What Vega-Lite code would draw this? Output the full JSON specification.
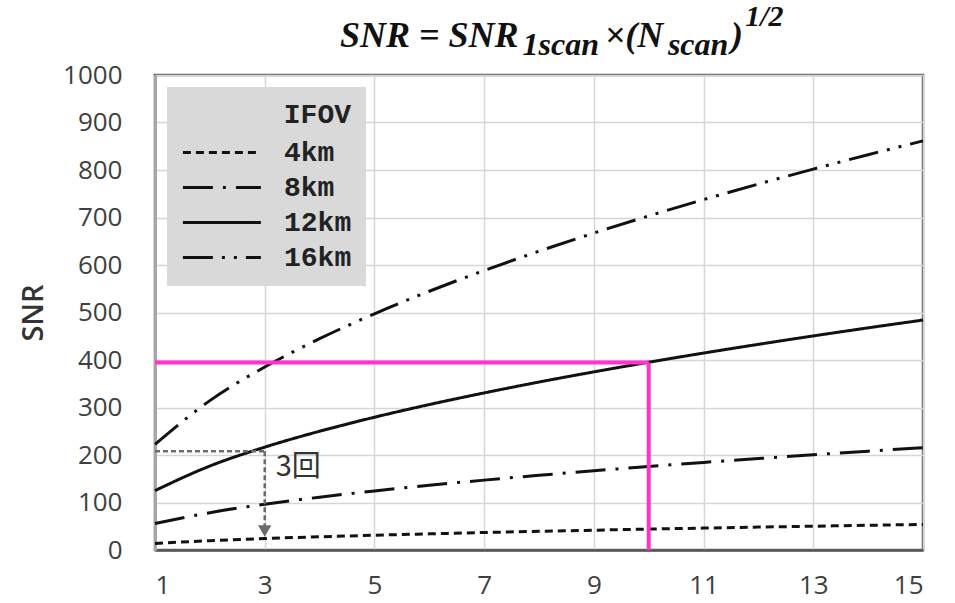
{
  "$schema": "https://vega.github.io/schema/vega-lite/v6.json",
  "width": 768,
  "height": 475,
  "autosize": {"type": "none"},
  "padding": {"left": 155, "top": 75, "right": 32, "bottom": 53},
  "background": "white",
  "config": {
    "view": {"stroke": "#5a5a5a", "strokeWidth": 2.5},
    "axis": {"labelFont": "Open Sans", "labelFontSize": 26, "labelColor": "#404040", "ticks": false, "gridColor": "#d6d6d6", "gridWidth": 1.5, "titleFont": "Open Sans", "titleColor": "#333333"}
  },
  "datasets": {
    "curves": [
      {"N": 1, "SNR": 13.9, "IFOV": "4km"}, {"N": 2, "SNR": 19.7, "IFOV": "4km"}, {"N": 3, "SNR": 24.1, "IFOV": "4km"}, {"N": 4, "SNR": 27.8, "IFOV": "4km"}, {"N": 5, "SNR": 31.1, "IFOV": "4km"}, {"N": 6, "SNR": 34.0, "IFOV": "4km"}, {"N": 7, "SNR": 36.8, "IFOV": "4km"}, {"N": 8, "SNR": 39.3, "IFOV": "4km"}, {"N": 9, "SNR": 41.7, "IFOV": "4km"}, {"N": 10, "SNR": 44.0, "IFOV": "4km"}, {"N": 11, "SNR": 46.1, "IFOV": "4km"}, {"N": 12, "SNR": 48.2, "IFOV": "4km"}, {"N": 13, "SNR": 50.1, "IFOV": "4km"}, {"N": 14, "SNR": 52.0, "IFOV": "4km"}, {"N": 15, "SNR": 53.8, "IFOV": "4km"},
      {"N": 1, "SNR": 55.6, "IFOV": "8km"}, {"N": 2, "SNR": 78.6, "IFOV": "8km"}, {"N": 3, "SNR": 96.3, "IFOV": "8km"}, {"N": 4, "SNR": 111.2, "IFOV": "8km"}, {"N": 5, "SNR": 124.3, "IFOV": "8km"}, {"N": 6, "SNR": 136.2, "IFOV": "8km"}, {"N": 7, "SNR": 147.1, "IFOV": "8km"}, {"N": 8, "SNR": 157.2, "IFOV": "8km"}, {"N": 9, "SNR": 166.8, "IFOV": "8km"}, {"N": 10, "SNR": 175.8, "IFOV": "8km"}, {"N": 11, "SNR": 184.4, "IFOV": "8km"}, {"N": 12, "SNR": 192.6, "IFOV": "8km"}, {"N": 13, "SNR": 200.5, "IFOV": "8km"}, {"N": 14, "SNR": 208.1, "IFOV": "8km"}, {"N": 15, "SNR": 215.3, "IFOV": "8km"},
      {"N": 1, "SNR": 125.0, "IFOV": "12km"}, {"N": 2, "SNR": 176.8, "IFOV": "12km"}, {"N": 3, "SNR": 216.5, "IFOV": "12km"}, {"N": 4, "SNR": 250.0, "IFOV": "12km"}, {"N": 5, "SNR": 279.5, "IFOV": "12km"}, {"N": 6, "SNR": 306.2, "IFOV": "12km"}, {"N": 7, "SNR": 330.7, "IFOV": "12km"}, {"N": 8, "SNR": 353.6, "IFOV": "12km"}, {"N": 9, "SNR": 375.0, "IFOV": "12km"}, {"N": 10, "SNR": 395.3, "IFOV": "12km"}, {"N": 11, "SNR": 414.6, "IFOV": "12km"}, {"N": 12, "SNR": 433.0, "IFOV": "12km"}, {"N": 13, "SNR": 450.7, "IFOV": "12km"}, {"N": 14, "SNR": 467.7, "IFOV": "12km"}, {"N": 15, "SNR": 484.1, "IFOV": "12km"},
      {"N": 1, "SNR": 222.4, "IFOV": "16km"}, {"N": 2, "SNR": 314.5, "IFOV": "16km"}, {"N": 3, "SNR": 385.2, "IFOV": "16km"}, {"N": 4, "SNR": 444.8, "IFOV": "16km"}, {"N": 5, "SNR": 497.3, "IFOV": "16km"}, {"N": 6, "SNR": 544.7, "IFOV": "16km"}, {"N": 7, "SNR": 588.4, "IFOV": "16km"}, {"N": 8, "SNR": 629.0, "IFOV": "16km"}, {"N": 9, "SNR": 667.2, "IFOV": "16km"}, {"N": 10, "SNR": 703.3, "IFOV": "16km"}, {"N": 11, "SNR": 737.6, "IFOV": "16km"}, {"N": 12, "SNR": 770.4, "IFOV": "16km"}, {"N": 13, "SNR": 801.9, "IFOV": "16km"}, {"N": 14, "SNR": 832.2, "IFOV": "16km"}, {"N": 15, "SNR": 861.3, "IFOV": "16km"}
    ],
    "pink": [
      {"N": 1, "SNR": 395, "N2": 10, "SNR2": 395},
      {"N": 10, "SNR": 0, "N2": 10, "SNR2": 395}
    ],
    "guide": [
      {"N": 1, "SNR": 208, "N2": 3, "SNR2": 208},
      {"N": 3, "SNR": 208, "N2": 3, "SNR2": 50}
    ],
    "arrow": [{"N": 3, "SNR": 40}],
    "note": [{"N": 3.2, "SNR": 175, "label": "3回"}]
  },
  "layer": [
    {
      "data": {"name": "curves"},
      "mark": {"type": "line", "strokeWidth": 3, "color": "#111111", "interpolate": "monotone"},
      "encoding": {
        "x": {"field": "N", "type": "quantitative", "scale": {"domain": [1, 15], "nice": false, "zero": false},
              "axis": {"values": [1, 3, 5, 7, 9, 11, 13, 15], "format": "d", "title": null, "labelPadding": 22, "domainColor": "#555555", "domainWidth": 2.5}},
        "y": {"field": "SNR", "type": "quantitative", "scale": {"domain": [0, 1000], "nice": false},
              "axis": {"values": [0, 100, 200, 300, 400, 500, 600, 700, 800, 900, 1000], "format": "d", "title": "SNR", "titleFontSize": 29, "titleFontWeight": 600, "titlePadding": 14, "labelPadding": 33, "domainColor": "#a6a6a6", "domainWidth": 3}},
        "strokeDash": {"field": "IFOV", "type": "nominal",
          "scale": {"domain": ["4km", "8km", "12km", "16km"], "range": [[8, 5], [30, 10, 3, 10], [1, 0], [30, 9, 3, 9, 3, 9]]},
          "legend": {"orient": "top-left", "offset": 12, "title": "IFOV", "fillColor": "#d9d9d9", "padding": 14,
            "titleFont": "Liberation Mono", "titleFontSize": 28, "titleFontWeight": "bold", "titleColor": "#222222", "titleAnchor": "end", "titlePadding": 6,
            "labelFont": "Liberation Mono", "labelFontSize": 28, "labelFontWeight": "bold", "labelColor": "#222222", "labelOffset": 68,
            "symbolType": "M-1,0H4", "symbolSize": 973, "symbolStrokeWidth": 3, "symbolStrokeColor": "#111111", "rowPadding": 3,
            "labelExpr": "length(datum.label) < 4 ? '\u00a0' + datum.label : datum.label"}}
      }
    },
    {
      "data": {"name": "pink"},
      "mark": {"type": "rule", "color": "#ff33cc", "strokeWidth": 4},
      "encoding": {
        "x": {"field": "N", "type": "quantitative"},
        "y": {"field": "SNR", "type": "quantitative"},
        "x2": {"field": "N2"},
        "y2": {"field": "SNR2"}
      }
    },
    {
      "data": {"name": "guide"},
      "mark": {"type": "rule", "color": "#6b6b6b", "strokeWidth": 2.5, "strokeDash": [5, 3]},
      "encoding": {
        "x": {"field": "N", "type": "quantitative"},
        "y": {"field": "SNR", "type": "quantitative"},
        "x2": {"field": "N2"},
        "y2": {"field": "SNR2"}
      }
    },
    {
      "data": {"name": "arrow"},
      "mark": {"type": "point", "shape": "triangle-down", "filled": true, "color": "#6b6b6b", "size": 180, "opacity": 1},
      "encoding": {
        "x": {"field": "N", "type": "quantitative"},
        "y": {"field": "SNR", "type": "quantitative"}
      }
    },
    {
      "data": {"name": "note"},
      "mark": {"type": "text", "font": "Noto Sans CJK JP", "fontSize": 29, "align": "left", "baseline": "middle", "color": "#333333"},
      "encoding": {
        "x": {"field": "N", "type": "quantitative"},
        "y": {"field": "SNR", "type": "quantitative"},
        "text": {"field": "label"}
      }
    },
    {
      "data": {"values": [{}]},
      "mark": {"type": "text", "text": "SNR = SNR", "font": "Liberation Serif", "fontSize": 36, "fontWeight": "bold", "fontStyle": "italic", "align": "left", "baseline": "alphabetic", "color": "#111111"},
      "encoding": {"x": {"datum": 4.372}, "y": {"datum": 1059}}
    },
    {
      "data": {"values": [{}]},
      "mark": {"type": "text", "text": "1scan", "font": "Liberation Serif", "fontSize": 32, "fontWeight": "bold", "fontStyle": "italic", "align": "left", "baseline": "alphabetic", "color": "#111111"},
      "encoding": {"x": {"datum": 7.7}, "y": {"datum": 1042}}
    },
    {
      "data": {"values": [{}]},
      "mark": {"type": "text", "text": "×(N", "font": "Liberation Serif", "fontSize": 36, "fontWeight": "bold", "fontStyle": "italic", "align": "left", "baseline": "alphabetic", "color": "#111111"},
      "encoding": {"x": {"datum": 9.2}, "y": {"datum": 1059}}
    },
    {
      "data": {"values": [{}]},
      "mark": {"type": "text", "text": "scan", "font": "Liberation Serif", "fontSize": 32, "fontWeight": "bold", "fontStyle": "italic", "align": "left", "baseline": "alphabetic", "color": "#111111"},
      "encoding": {"x": {"datum": 10.35}, "y": {"datum": 1042}}
    },
    {
      "data": {"values": [{}]},
      "mark": {"type": "text", "text": ")", "font": "Liberation Serif", "fontSize": 36, "fontWeight": "bold", "fontStyle": "italic", "align": "left", "baseline": "alphabetic", "color": "#111111"},
      "encoding": {"x": {"datum": 11.5}, "y": {"datum": 1059}}
    },
    {
      "data": {"values": [{}]},
      "mark": {"type": "text", "text": "1/2", "font": "Liberation Serif", "fontSize": 30, "fontWeight": "bold", "fontStyle": "italic", "align": "left", "baseline": "alphabetic", "color": "#111111"},
      "encoding": {"x": {"datum": 11.76}, "y": {"datum": 1103}}
    }
  ]
}
